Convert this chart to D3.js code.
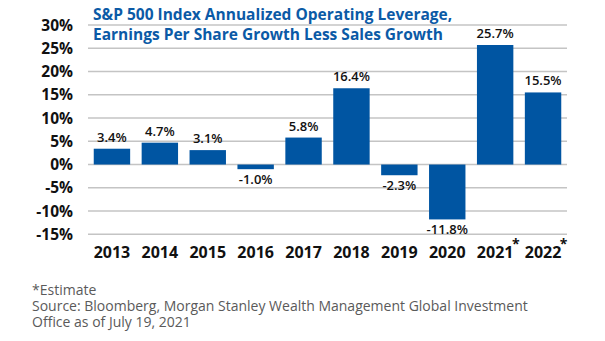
<!DOCTYPE html>
<html>
<head>
<meta charset="utf-8">
<script src="https://cdn.jsdelivr.net/npm/d3@7"></script>
<style>
  body { margin: 0; background: #fff; }
  svg { display: block; }
</style>
</head>
<body>
<svg width="605" height="341"></svg>
<script>
// Operating leverage by year (EPS growth less sales growth, %)
const years = ["2013", "2014", "2015", "2016", "2017", "2018", "2019", "2020", "2021", "2022"];
const leverage = [3.4, 4.7, 3.1, -1.0, 5.8, 16.4, -2.3, -11.8, 25.7, 15.5];
const estimateYears = ["2021", "2022"];
const yTicks = [30, 25, 20, 15, 10, 5, 0, -5, -10, -15];

const titleLines = [
  "S&P 500 Index Annualized Operating Leverage,",
  "Earnings Per Share Growth Less Sales Growth"
];
const footLines = [
  "*Estimate",
  "Source: Bloomberg, Morgan Stanley Wealth Management Global Investment",
  "Office as of July 19, 2021"
];

const blue = "#0055a2";
const font = "'Open Sans', 'DejaVu Sans', sans-serif";

const svg = d3.select("svg");

const x = d3.scaleBand()
    .domain(years)
    .range([88, 567])
    .paddingInner(0.24)
    .paddingOuter(0.12);

const y = d3.scaleLinear()
    .domain([-15, 30])
    .range([234.3, 25]);

// grid lines
svg.append("g")
  .selectAll("line")
  .data(yTicks)
  .join("line")
    .attr("x1", 88)
    .attr("x2", 567)
    .attr("y1", d => y(d))
    .attr("y2", d => y(d))
    .attr("stroke", "#c4c4c4")
    .attr("stroke-width", 1.5);

// y labels
svg.append("g")
  .selectAll("text")
  .data(yTicks)
  .join("text")
    .attr("x", 73)
    .attr("y", d => y(d))
    .attr("dy", "0.36em")
    .attr("text-anchor", "end")
    .style("font-family", font)
    .style("font-weight", 700)
    .style("font-size", "15.5px")
    .attr("fill", "#111")
    .text(d => d + "%");

// title
svg.append("g")
  .selectAll("text")
  .data(titleLines)
  .join("text")
    .attr("x", 93)
    .attr("y", (d, i) => 20 + i * 19.5)
    .style("font-family", font)
    .style("font-weight", 700)
    .style("font-size", "15.5px")
    .attr("fill", "#0b5aa6")
    .text(d => d);

const data = years.map((yr, i) => ({ year: yr, value: leverage[i] }));

// bars
svg.append("g")
  .selectAll("rect")
  .data(data)
  .join("rect")
    .attr("x", d => x(d.year))
    .attr("width", x.bandwidth())
    .attr("y", d => y(Math.max(0, d.value)))
    .attr("height", d => Math.abs(y(d.value) - y(0)))
    .attr("fill", blue);

// value labels
svg.append("g")
  .selectAll("text")
  .data(data)
  .join("text")
    .attr("x", d => x(d.year) + x.bandwidth() / 2)
    .attr("y", d => d.value >= 0 ? y(d.value) - 7 : y(d.value) + 15)
    .attr("text-anchor", "middle")
    .style("font-family", font)
    .style("font-weight", 600)
    .style("font-size", "13px")
    .attr("fill", "#111")
    .text(d => d.value.toFixed(1) + "%");

// year labels
const yearLabels = svg.append("g")
  .selectAll("text")
  .data(years)
  .join("text")
    .attr("x", d => x(d) + x.bandwidth() / 2)
    .attr("y", 258)
    .attr("text-anchor", "middle")
    .style("font-family", font)
    .style("font-weight", 700)
    .style("font-size", "16px")
    .attr("fill", "#111")
    .text(d => d);

// asterisks on estimated years
yearLabels.each(function (d) {
  if (!estimateYears.includes(d)) return;
  const b = this.getBBox();
  svg.append("text")
    .attr("x", b.x + b.width - 1.5)
    .attr("y", 249)
    .style("font-family", font)
    .style("font-weight", 700)
    .style("font-size", "14px")
    .attr("fill", "#111")
    .text("*");
});

// footnote
svg.append("g")
  .selectAll("text")
  .data(footLines)
  .join("text")
    .attr("x", 32)
    .attr("y", (d, i) => 295 + i * 16)
    .style("font-family", font)
    .style("font-weight", 400)
    .style("font-size", "14px")
    .attr("fill", "#5a5a5a")
    .text(d => d);
</script>
</body>
</html>
